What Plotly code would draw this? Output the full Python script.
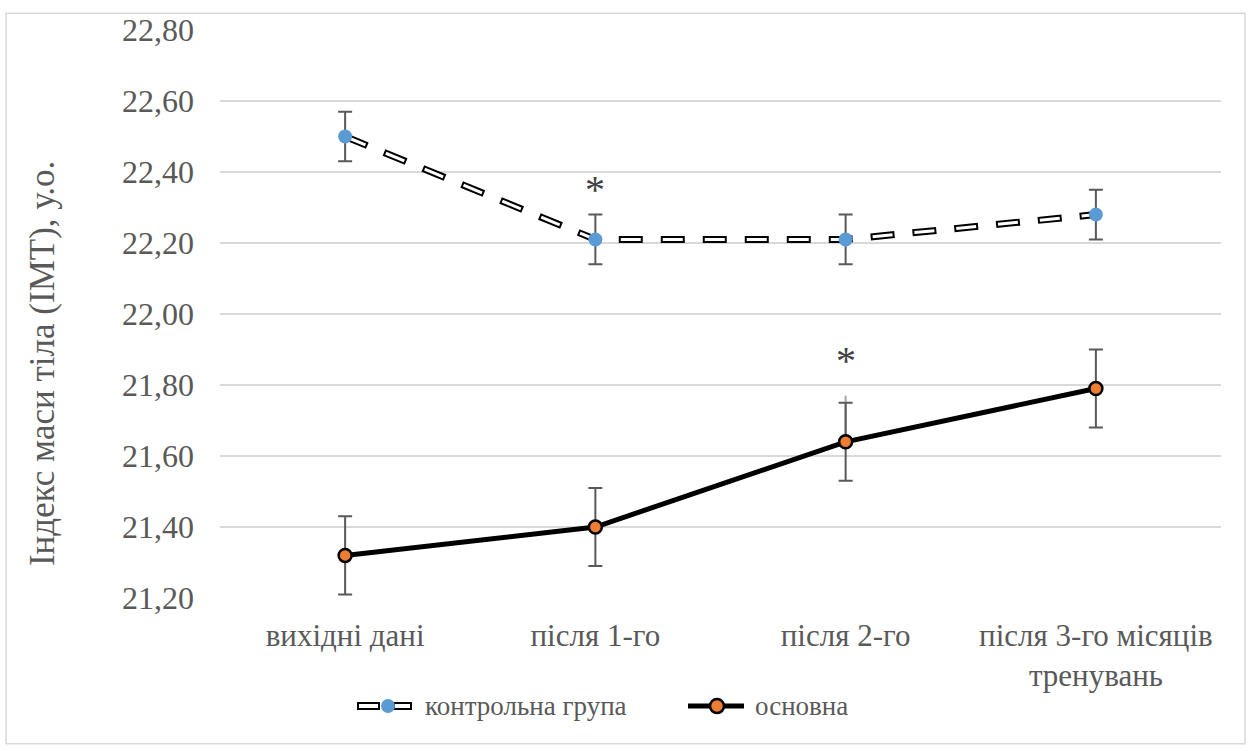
import plotly.graph_objects as go

# Data
categories = ["вихідні дані", "після 1-го", "після 2-го", "після 3-го місяців<br>тренувань"]
control_vals = [22.50, 22.21, 22.21, 22.28]
control_err = [0.07, 0.07, 0.07, 0.07]
main_vals = [21.32, 21.40, 21.64, 21.79]
main_err = [0.11, 0.11, 0.11, 0.11]
star_x = [1, 2]
star_y = [22.35, 21.87]
y_ticks = [21.2, 21.4, 21.6, 21.8, 22.0, 22.2, 22.4, 22.6, 22.8]

W, H = 1251, 751
L, R, T, B = 220, 30, 25, 153
PW, PH = W - L - R, H - T - B

FONT = "Liberation Serif"
TXT = "#595959"
ERR = "#595959"

def px_x(px):
    return (px - L) / PW

def px_y(py):
    return (H - B - py) / PH

xs = list(range(len(categories)))

fig = go.Figure()

# control group: black outlined dashes with white inner stroke
fig.add_trace(go.Scatter(
    x=xs, y=control_vals, mode="lines",
    line=dict(color="black", width=7, dash="24px,18px"),
    error_y=dict(type="data", array=control_err, color=ERR, thickness=2, width=7),
    showlegend=False, hoverinfo="skip"))
fig.add_trace(go.Scatter(
    x=xs, y=control_vals, mode="lines+markers",
    line=dict(color="white", width=3, dash="0px,2px,20px,20px"),
    marker=dict(color="#5B9BD5", size=14, line=dict(width=0)),
    name="контрольна група", showlegend=False))

# faint extra whisker at the third main point
fig.add_trace(go.Scatter(
    x=[2], y=[main_vals[2]], mode="markers",
    marker=dict(size=1, opacity=0),
    error_y=dict(type="data", symmetric=False, array=[0.13], arrayminus=[0],
                 color="#a6a6a6", thickness=2, width=0),
    showlegend=False, hoverinfo="skip"))

# main group
fig.add_trace(go.Scatter(
    x=xs, y=main_vals, mode="lines+markers",
    line=dict(color="black", width=5),
    marker=dict(color="#ED7D31", size=13, line=dict(color="black", width=2.5)),
    error_y=dict(type="data", array=main_err, color=ERR, thickness=2, width=7),
    name="основна", showlegend=False))

annotations = []
for sx, sy in zip(star_x, star_y):
    annotations.append(dict(x=sx, y=sy, xref="x", yref="y", text="*",
                            showarrow=False, font=dict(family=FONT, size=40, color="#404040"),
                            yanchor="middle"))

# axis title
annotations.append(dict(x=px_x(42), y=px_y(362), xref="paper", yref="paper",
                        text="Індекс маси тіла (ІМТ), у.о.", textangle=-90, showarrow=False,
                        font=dict(family=FONT, size=35, color=TXT),
                        xanchor="center", yanchor="middle"))

# legend texts
annotations.append(dict(x=px_x(423), y=px_y(707), xref="paper", yref="paper",
                        text="контрольна група", showarrow=False, xanchor="left", yanchor="middle",
                        font=dict(family=FONT, size=27, color=TXT)))
annotations.append(dict(x=px_x(753), y=px_y(707), xref="paper", yref="paper",
                        text="основна", showarrow=False, xanchor="left", yanchor="middle",
                        font=dict(family=FONT, size=27, color=TXT)))

shapes = []
# outer frame
shapes.append(dict(type="rect", xref="paper", yref="paper",
                   x0=px_x(6), x1=px_x(1245), y0=px_y(745), y1=px_y(8),
                   line=dict(color="#d9d9d9", width=1.5), fillcolor="rgba(0,0,0,0)", layer="below"))
# legend symbol: control group
ly = px_y(707)
for a, b in [(358, 379), (394, 411)]:
    shapes.append(dict(type="rect", xref="paper", yref="paper", ysizemode="pixel", yanchor=ly,
                       x0=px_x(a), x1=px_x(b), y0=-3, y1=3,
                       line=dict(color="black", width=2), fillcolor="white"))
shapes.append(dict(type="circle", xref="paper", yref="paper", xsizemode="pixel", ysizemode="pixel",
                   xanchor=px_x(388), yanchor=ly, x0=-7, x1=7, y0=-7, y1=7,
                   line=dict(width=0), fillcolor="#5B9BD5"))
# legend symbol: main group
shapes.append(dict(type="line", xref="paper", yref="paper", ysizemode="pixel", yanchor=ly,
                   x0=px_x(688), x1=px_x(744), y0=0, y1=0,
                   line=dict(color="black", width=5)))
shapes.append(dict(type="circle", xref="paper", yref="paper", xsizemode="pixel", ysizemode="pixel",
                   xanchor=px_x(717), yanchor=ly, x0=-7, x1=7, y0=-7, y1=7,
                   line=dict(color="black", width=2.5), fillcolor="#ED7D31"))

fig.update_layout(
    width=W, height=H,
    margin=dict(l=L, r=R, t=T, b=B),
    paper_bgcolor="white", plot_bgcolor="white",
    separators=", ",
    font=dict(family=FONT, size=32, color=TXT),
    xaxis=dict(range=[-0.5, 3.5], tickmode="array", tickvals=xs, ticktext=categories,
               showgrid=False, zeroline=False, showline=False, ticks="",
               ticklabelstandoff=16,
               tickfont=dict(family=FONT, size=31, color=TXT)),
    yaxis=dict(range=[21.2, 22.8], tickmode="array", tickvals=y_ticks,
               ticktext=[f"{v:.2f}".replace(".", ",") for v in y_ticks],
               showgrid=True, gridcolor="#d9d9d9", gridwidth=1.5, zeroline=False,
               showline=False, ticks="", ticklabelstandoff=25,
               tickfont=dict(family=FONT, size=32, color=TXT)),
    annotations=annotations, shapes=shapes,
)

fig.write_html("out.html")
